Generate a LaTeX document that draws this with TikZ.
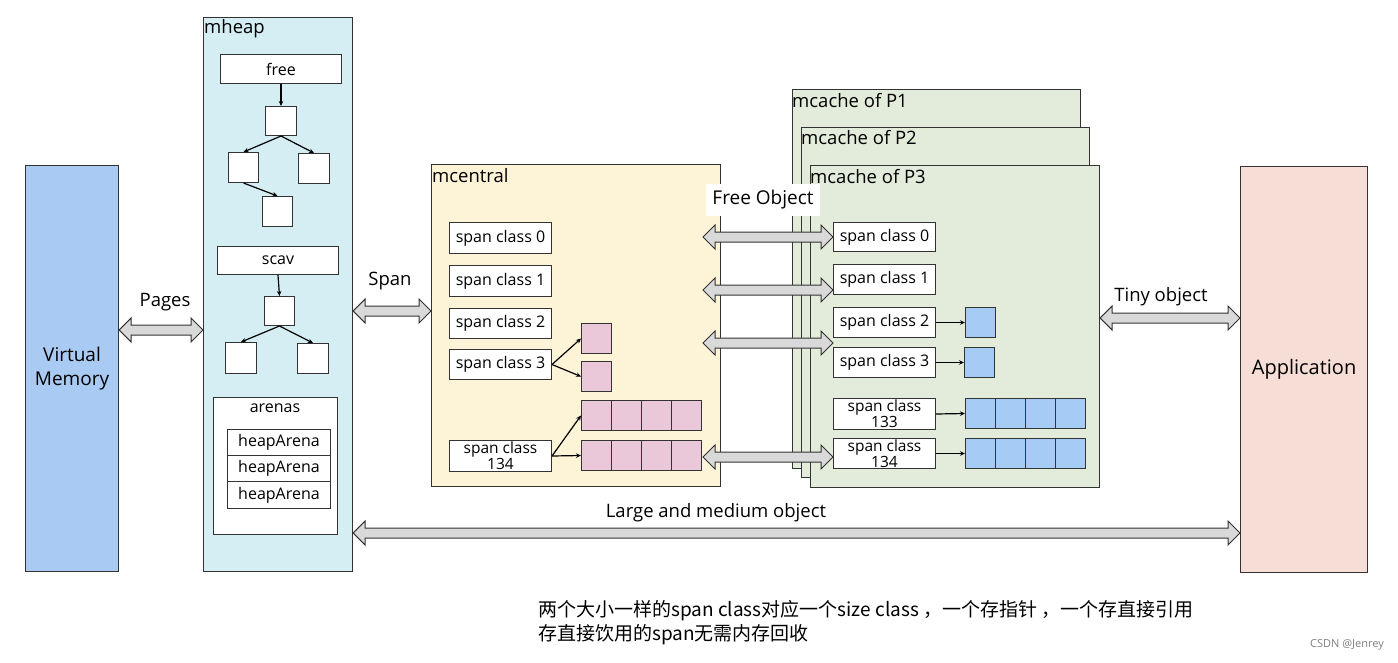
\documentclass[tikz,border=0pt]{standalone}
\usepackage{fontspec}
\setmainfont{Open Sans}
\newfontfamily\cjk{Noto Sans CJK SC}
\usetikzlibrary{calc,arrows.meta}
\definecolor{lineC}{HTML}{333333}
\definecolor{vmC}{HTML}{A9CAF2}
\definecolor{heapC}{HTML}{D4EEF3}
\definecolor{centralC}{HTML}{FDF3D6}
\definecolor{cacheC}{HTML}{E3ECDA}
\definecolor{appC}{HTML}{F6DDD6}
\definecolor{pinkC}{HTML}{EAC8DA}
\definecolor{blueC}{HTML}{A6CCF5}
\definecolor{arrC}{HTML}{D9D9D9}
\newcommand\fsz[1]{\fontsize{#1}{#1}\selectfont}
\tikzset{
  box/.style={draw=lineC, line width=1pt, rectangle, inner sep=0pt, anchor=north west},
  bigbox/.style={box, line width=1.1pt},
  wbox/.style={box, fill=white, font=\fsz{16}},
  twoline/.style={wbox, align=center, font=\fontsize{15.5}{14.5}\selectfont},
  pinkcell/.style={box, fill=pinkC, minimum width=30pt, minimum height=30pt},
  bluecell/.style={box, fill=blueC, minimum width=30pt, minimum height=30pt},
  title/.style={anchor=west, inner sep=0pt, font=\fsz{18.5}},
  lbl/.style={inner sep=0pt, font=\fsz{18.5}},
  treearrow/.style={draw=black, line width=1.2pt, -{Stealth[length=5pt,width=4.5pt]}},
  blockarr/.style={draw=lineC, line width=1pt, fill=arrC, line join=miter}
}
\newcommand\dblarrow[2]{%
  \path[blockarr] let \p1=(#1), \p2=(#2) in
    (\x1,\y1) -- (\x1+12pt,\y1+12pt) -- (\x1+12pt,\y1+5pt) -- (\x2-12pt,\y1+5pt)
    -- (\x2-12pt,\y1+12pt) -- (\x2,\y1) -- (\x2-12pt,\y1-12pt) -- (\x2-12pt,\y1-5pt)
    -- (\x1+12pt,\y1-5pt) -- (\x1+12pt,\y1-12pt) -- cycle;}
\begin{document}
\begin{tikzpicture}[x=1pt,y=-1pt]
\fill[white] (0,0) rectangle (1398,662);
\useasboundingbox (0,0) rectangle (1398,662);

% big containers
\node[bigbox, fill=vmC, minimum width=93pt, minimum height=406pt, align=center, font=\fontsize{19}{24}\selectfont] (vm) at (25,165) {Virtual\\Memory};
\node[bigbox, fill=heapC, minimum width=149pt, minimum height=554pt] (mheap) at (203,17) {};
\node[bigbox, fill=appC, minimum width=127pt, minimum height=406pt, font=\fsz{20}] (app) at (1240,166) {Application};
\node[bigbox, fill=centralC, minimum width=289pt, minimum height=322pt] (mcentral) at (431,164) {};
\node[bigbox, fill=cacheC, minimum width=288pt, minimum height=379pt] (p1) at (792,89) {};
\node[bigbox, fill=cacheC, minimum width=288pt, minimum height=350pt] (p2) at (801,127) {};
\node[bigbox, fill=cacheC, minimum width=289pt, minimum height=322pt] (p3) at (810,165) {};

% titles
\node[title] (tmheap) at (204,29) {mheap};
\node[title] (tmcentral) at (432,176) {mcentral};
\node[title] (tp1) at (792,101) {mcache of P1};
\node[title] (tp2) at (801,138) {mcache of P2};
\node[title] (tp3) at (810,177) {mcache of P3};

% mheap content
\node[wbox, minimum width=121pt, minimum height=29pt] (free) at (220,54) {free};
\node[wbox, minimum width=31pt, minimum height=29pt] (t1) at (265,106) {};
\node[wbox, minimum width=30pt, minimum height=30pt] (t2) at (228,152) {};
\node[wbox, minimum width=31pt, minimum height=30pt] (t3) at (298,153) {};
\node[wbox, minimum width=30pt, minimum height=30pt] (t4) at (262,196) {};
\node[wbox, minimum width=121pt, minimum height=28pt] (scav) at (217,246) {scav};
\node[wbox, minimum width=30pt, minimum height=29pt] (s1) at (264,296) {};
\node[wbox, minimum width=31pt, minimum height=31pt] (s2) at (225,342) {};
\node[wbox, minimum width=31pt, minimum height=30pt] (s3) at (297,343) {};
\draw[treearrow] (free.south) -- (t1.north);
\draw[treearrow] (t1.south) -- (t2.north);
\draw[treearrow] (t1.south) -- (t3.north);
\draw[treearrow] (t2.south) -- (t4.north);
\draw[treearrow] (scav.south) -- (s1.north);
\draw[treearrow] (s1.south) -- (s2.north);
\draw[treearrow] (s1.south) -- (s3.north);
\node[wbox, minimum width=124pt, minimum height=137pt] (arenas) at (213,397) {};
\node[lbl, font=\fsz{16}] (tarenas) at (275,408) {arenas};
\node[wbox, minimum width=103pt, minimum height=26pt] (ha1) at (227,429) {heapArena};
\node[wbox, minimum width=103pt, minimum height=26pt] (ha2) at (227,455) {heapArena};
\node[wbox, minimum width=103pt, minimum height=27pt] (ha3) at (227,481) {heapArena};

% mcentral content
\node[wbox, minimum width=102pt, minimum height=31pt] (c0) at (449,222) {span class 0};
\node[wbox, minimum width=102pt, minimum height=31pt] (c1) at (449,265) {span class 1};
\node[wbox, minimum width=102pt, minimum height=30pt] (c2) at (449,308) {span class 2};
\node[wbox, minimum width=102pt, minimum height=30pt] (c3) at (449,349) {span class 3};
\node[twoline, minimum width=102pt, minimum height=31pt] (c134) at (449,440) {span class\\134};
\node[pinkcell] (pa) at (581,323) {};
\node[pinkcell] (pb) at (581,361) {};
\foreach \i in {0,...,3} {
  \node[pinkcell] (ra\i) at (581+30*\i,400) {};
  \node[pinkcell] (rb\i) at (581+30*\i,440) {};
}
\draw[treearrow] (c3.east) -- (pa.west);
\draw[treearrow] (c3.east) -- (pb.west);
\draw[treearrow] (c134.east) -- (ra0.west);
\draw[treearrow] (c134.east) -- (rb0.west);

% mcache content
\node[wbox, minimum width=102pt, minimum height=29pt] (m0) at (833,222) {span class 0};
\node[wbox, minimum width=102pt, minimum height=30pt] (m1) at (833,264) {span class 1};
\node[wbox, minimum width=102pt, minimum height=30pt] (m2) at (833,307) {span class 2};
\node[wbox, minimum width=102pt, minimum height=30pt] (m3) at (833,347) {span class 3};
\node[twoline, minimum width=102pt, minimum height=31pt] (m133) at (833,398) {span class\\133};
\node[twoline, minimum width=102pt, minimum height=30pt] (m134) at (833,438) {span class\\134};
\node[bluecell] (ba) at (965,307) {};
\node[bluecell] (bb) at (964,347) {};
\foreach \i in {0,...,3} {
  \node[bluecell] (qa\i) at (965+30*\i,398) {};
  \node[bluecell] (qb\i) at (965+30*\i,438) {};
}
\draw[treearrow] (m2.east) -- (ba.west);
\draw[treearrow] (m3.east) -- (bb.west);
\draw[treearrow] (m133.east) -- (qa0.west);
\draw[treearrow] (m134.east) -- (qb0.west);

% free object label
\node[fill=white, inner sep=0pt, minimum width=114pt, minimum height=32pt, font=\fsz{19}] (freeobj) at (763,200) {Free Object};

% arrow heights
\coordinate (yPages) at (0,330);
\coordinate (ySpan) at (0,311);
\coordinate (yTiny) at (0,318);
\coordinate (yLarge) at (0,533);
\coordinate (foL) at (703,0);
\coordinate (yA) at (0,237);
\coordinate (yB) at (0,290);
\coordinate (yC) at (0,343);
\coordinate (yD) at (0,457);

\dblarrow{vm.east |- yPages}{mheap.west |- yPages}
\dblarrow{mheap.east |- ySpan}{mcentral.west |- ySpan}
\dblarrow{p3.east |- yTiny}{app.west |- yTiny}
\dblarrow{mheap.east |- yLarge}{app.west |- yLarge}
\dblarrow{foL |- yA}{m0.west |- yA}
\dblarrow{foL |- yB}{m1.west |- yB}
\dblarrow{foL |- yC}{m2.west |- yC}
\dblarrow{foL |- yD}{m134.west |- yD}

% arrow labels
\node[lbl] (lpages) at (165,302) {Pages};
\node[lbl] (lspan) at (390,281) {Span};
\node[lbl] (ltiny) at (1161,297) {Tiny object};
\node[lbl] (llarge) at (716,513) {Large and medium object};

% note
\node[anchor=north west, inner sep=0pt, align=left, font=\cjk\fontsize{19}{24}\selectfont] (note) at (538,600)
  {两个大小一样的span class对应一个size class ，一个存指针 ，一个存直接引用\\存直接饮用的span无需内存回收};
\node[anchor=east, inner sep=0pt, text=gray, font=\fsz{11}] (wm) at (1384,645) {CSDN @Jenrey};
\end{tikzpicture}
\end{document}
